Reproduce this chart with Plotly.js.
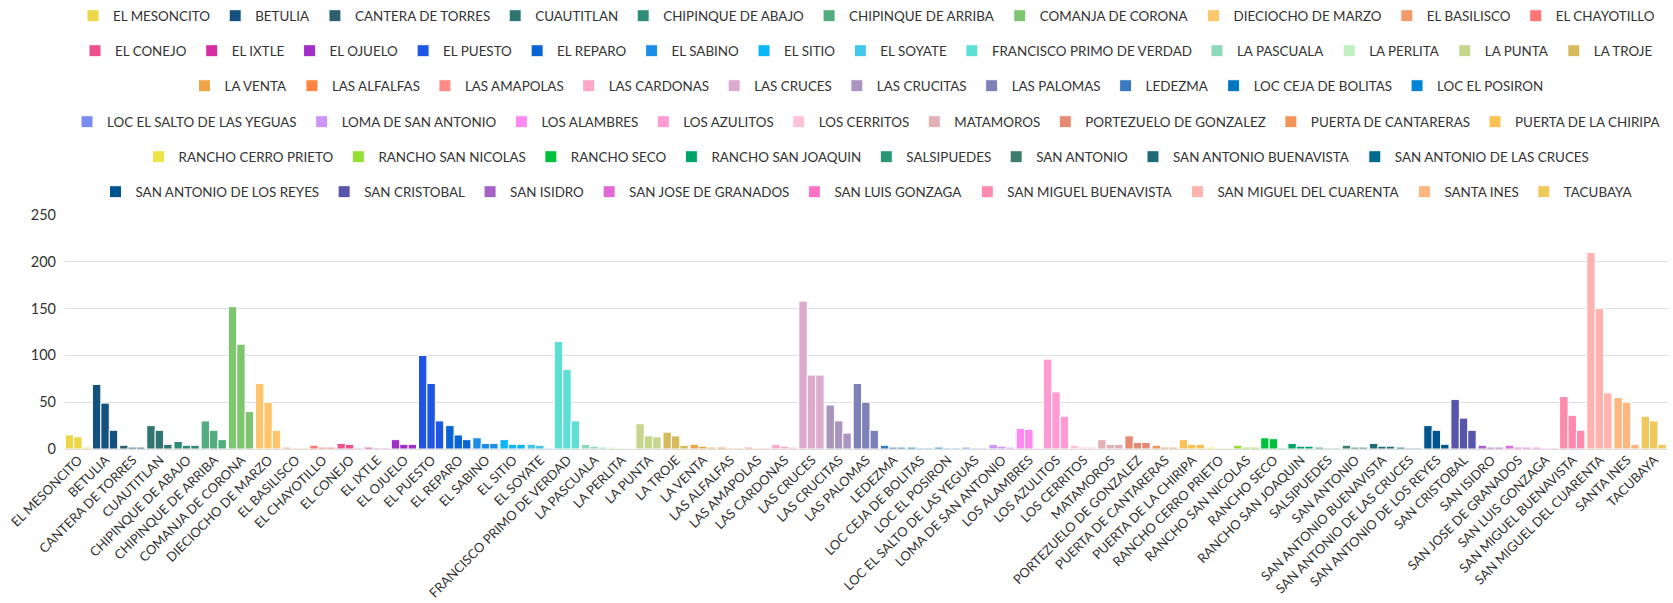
<!DOCTYPE html>
<html>
<head>
<meta charset="utf-8">
<script src="https://cdn.plot.ly/plotly-3.0.1.min.js"></script>
<style>
    html, body { margin: 0; padding: 0; background: #fff; }
    #graph { width: 1673px; height: 603px; }
</style>
</head>
<body>
<div id="graph"></div>
<script>
const locations = [
    'EL MESONCITO', 'BETULIA', 'CANTERA DE TORRES', 'CUAUTITLAN', 'CHIPINQUE DE ABAJO',
    'CHIPINQUE DE ARRIBA', 'COMANJA DE CORONA', 'DIECIOCHO DE MARZO', 'EL BASILISCO', 'EL CHAYOTILLO',
    'EL CONEJO', 'EL IXTLE', 'EL OJUELO', 'EL PUESTO', 'EL REPARO', 'EL SABINO', 'EL SITIO',
    'EL SOYATE', 'FRANCISCO PRIMO DE VERDAD', 'LA PASCUALA', 'LA PERLITA', 'LA PUNTA', 'LA TROJE',
    'LA VENTA', 'LAS ALFALFAS', 'LAS AMAPOLAS', 'LAS CARDONAS', 'LAS CRUCES', 'LAS CRUCITAS',
    'LAS PALOMAS', 'LEDEZMA', 'LOC CEJA DE BOLITAS', 'LOC EL POSIRON',
    'LOC EL SALTO DE LAS YEGUAS', 'LOMA DE SAN ANTONIO', 'LOS ALAMBRES', 'LOS AZULITOS',
    'LOS CERRITOS', 'MATAMOROS', 'PORTEZUELO DE GONZALEZ', 'PUERTA DE CANTARERAS',
    'PUERTA DE LA CHIRIPA',
    'RANCHO CERRO PRIETO', 'RANCHO SAN NICOLAS', 'RANCHO SECO', 'RANCHO SAN JOAQUIN', 'SALSIPUEDES',
    'SAN ANTONIO', 'SAN ANTONIO BUENAVISTA', 'SAN ANTONIO DE LAS CRUCES',
    'SAN ANTONIO DE LOS REYES', 'SAN CRISTOBAL', 'SAN ISIDRO', 'SAN JOSE DE GRANADOS',
    'SAN LUIS GONZAGA', 'SAN MIGUEL BUENAVISTA', 'SAN MIGUEL DEL CUARENTA', 'SANTA INES', 'TACUBAYA'
];

// three bars per location: total, then its two parts
const totals = [
    15, 69, 4, 25, 8, 30, 152, 70, 2, 4,
    6, 2, 10, 100, 25, 12, 10, 5, 115, 5, 2, 27, 18,
    5, 2, 2, 5, 158, 47, 70, 4, 2, 2,
    2, 5, 22, 96, 4, 10, 14, 4, 10,
    2, 4, 12, 6, 2, 4, 6, 2,
    25, 53, 4, 4, 2, 56, 210, 55, 35
];
const partA = [
    13, 49, 2, 20, 4, 20, 112, 50, 1, 2,
    5, 1, 5, 70, 15, 6, 5, 4, 85, 3, 1, 14, 14,
    3, 1, 1, 3, 79, 30, 50, 2, 1, 1,
    1, 3, 21, 61, 2, 5, 7, 2, 5,
    1, 2, 11, 3, 1, 2, 3, 1,
    20, 33, 2, 2, 1, 36, 150, 50, 30
];
const partB = [
    2, 20, 2, 5, 4, 10, 40, 20, 1, 2,
    1, 1, 5, 30, 10, 6, 5, 1, 30, 2, 1, 13, 4,
    2, 1, 1, 2, 79, 17, 20, 2, 1, 1,
    1, 2, 1, 35, 2, 5, 7, 2, 5,
    1, 2, 1, 3, 1, 2, 3, 1,
    5, 20, 2, 2, 1, 20, 60, 5, 5
];

const colors = [
    '#ebd748', '#14517e', '#2f5f6e', '#317573', '#2f8c77', '#52ad7e', '#7fc46f', '#ffc56d', '#f49a6b', '#ff7575',
    '#ef4f8d', '#d62ca3', '#a22ec8', '#1f55e3', '#0a64d4', '#1b8de8', '#0ab6f6', '#42c6e9', '#5ddfd6', '#8ed9b9',
    '#c1efc1', '#c8d58c', '#d6bb5e', '#efa547', '#ff8540', '#ff8a85', '#ffa7c6', '#dcaacc', '#a995be', '#7d81b8',
    '#3a78c0', '#0076bf', '#0085d6', '#7b8cf0', '#cc95f7', '#ff89f0', '#ff9bd2', '#ffc2d8', '#e0b0b5', '#e58a75',
    '#f39458', '#ffc152', '#ece548', '#94e034', '#00c13c', '#00a468', '#2a9474', '#3e7b6f', '#1d6b76', '#00698c',
    '#005490', '#5755a9', '#a362c4', '#e269d4', '#ff70c7', '#ff8aae', '#ffb3ae', '#ffb67c', '#f0c95c'
];

// first trace index of each legend row, and the row's vertical centre in px from the top
const legendRowStarts = [0, 10, 23, 33, 42, 50];
const legendRowCenters = [16, 51, 86, 122, 157, 192];

const pageHeight = 603;
const fontFamily = 'Lato, "Liberation Sans", sans-serif';

function legendRowOf(index) {
    let row = 0;
    for (let r = 0; r < legendRowStarts.length; r++) {
        if (index >= legendRowStarts[r]) row = r;
    }
    return row;
}

function legendId(row) {
    return row === 0 ? 'legend' : 'legend' + (row + 1);
}

const traces = locations.map((name, i) => ({
    type: 'bar',
    name: name,
    x: [name, name, name],
    y: [totals[i], partA[i], partB[i]],
    offset: [-0.49, -0.18, 0.13],
    width: 0.31,
    marker: {color: colors[i], line: {color: '#ffffff', width: 1}},
    legend: legendId(legendRowOf(i)),
    hovertemplate: name + ': %{y}<extra></extra>'
}));

const layout = {
    width: 1673,
    height: 603,
    barmode: 'overlay',
    paper_bgcolor: '#ffffff',
    plot_bgcolor: '#ffffff',
    font: {family: fontFamily, size: 13, color: '#333333'},
    margin: {l: 65, r: 5, t: 215, b: 154, autoexpand: false},
    xaxis: {
        type: 'category',
        tickangle: -45,
        showgrid: false,
        ticks: '',
        tickfont: {family: fontFamily, size: 13, color: '#333333'},
        fixedrange: true
    },
    yaxis: {
        range: [0, 250],
        dtick: 50,
        showgrid: true,
        gridcolor: '#dedede',
        gridwidth: 1,
        zeroline: true,
        zerolinecolor: '#dedede',
        zerolinewidth: 1,
        ticks: '',
        ticklabelstandoff: 8,
        tickfont: {family: fontFamily, size: 14.5, color: '#333333'},
        fixedrange: true
    }
};

legendRowStarts.forEach((start, row) => {
    layout[legendId(row)] = {
        orientation: 'h',
        x: 0.5,
        xanchor: 'center',
        yref: 'container',
        y: 1 - legendRowCenters[row] / pageHeight,
        yanchor: 'middle',
        bgcolor: 'rgba(0,0,0,0)',
        borderwidth: 0,
        font: {family: fontFamily, size: 13.4, color: '#333333'}
    };
});

const config = {
    displayModeBar: false,
    responsive: false
};

Plotly.newPlot('graph', traces, layout, config);
</script>
</body>
</html>
